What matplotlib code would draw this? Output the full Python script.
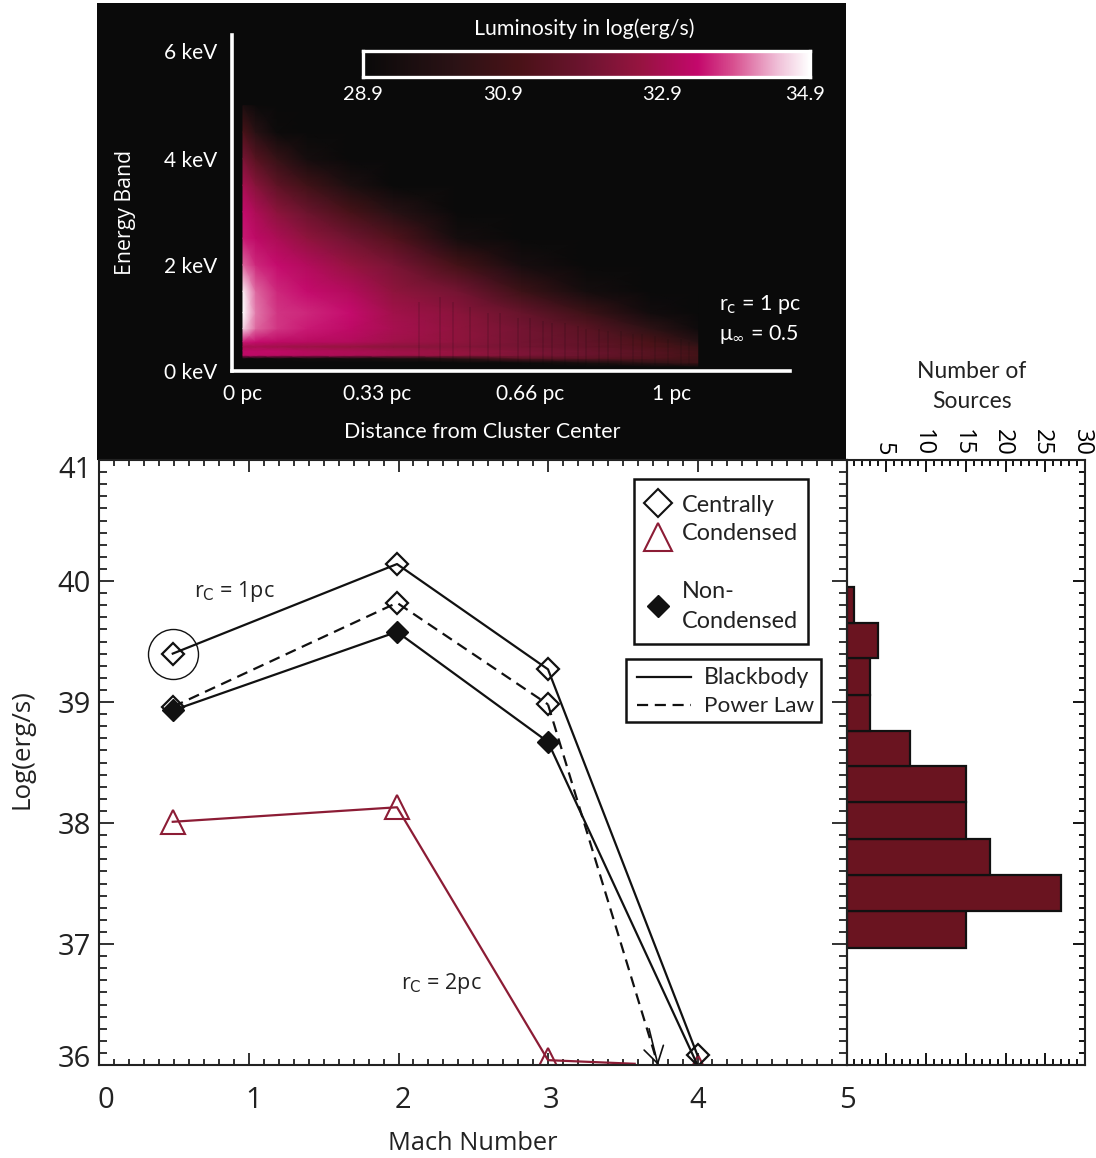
import numpy as np
import matplotlib
matplotlib.use('Agg')
import matplotlib.pyplot as plt
from matplotlib.colors import LinearSegmentedColormap
from matplotlib.patches import Rectangle
from matplotlib.ticker import MultipleLocator
from matplotlib.transforms import ScaledTranslation

# Line plot data, log luminosity against Mach number
mach = [0.49, 1.99, 3, 4]
bb_condensed = [39.40, 40.14, 39.27, 36.08]
pl_condensed_x = [0.49, 1.99, 3]
pl_condensed = [38.96, 39.82, 38.98]
pl_limit_x = 3.736
pl_limit_y = 36.00
non_condensed = [38.93, 39.58, 38.67, 36.00]
rc2_x = [0.49, 1.99, 3, 3.58]
rc2 = [38.01, 38.13, 36.04, 36.01]
rc2_tri_x = [0.49, 1.99, 3, 4]
rc2_tri = [38.01, 38.13, 36.04, 35.98]

# Histogram of sources
hist_edges = [36.97, 37.27, 37.57, 37.87, 38.17, 38.47, 38.76, 39.06, 39.36, 39.65, 39.95]
hist_counts = [15, 27, 18, 15, 15, 8, 3, 3, 4, 1]

# Luminosity map, read on a coarse grid
dist_pc = [0, 0.03, 0.08, 0.15, 0.25, 0.35, 0.5, 0.65, 0.8, 0.95, 1.06]
energy_kev = [0.08, 0.16, 0.24, 0.30, 0.38, 0.46, 0.55, 0.8, 1.1, 1.5, 2.0, 2.5, 3.0, 3.5, 4.0, 4.5, 5.0]
lum_map = [
    [28.9, 28.9, 28.9, 28.9, 28.9, 28.9, 28.9, 28.9, 28.9, 28.9, 29.0],
    [28.9, 28.9, 28.9, 28.9, 28.9, 28.9, 28.9, 29.0, 29.6, 30.3, 30.7],
    [29.0, 29.0, 29.1, 29.2, 29.3, 29.6, 30.2, 31.4, 31.5, 31.2, 30.7],
    [33.3, 33.3, 33.2, 33.1, 33.0, 32.8, 32.6, 32.2, 31.8, 31.3, 30.8],
    [33.3, 33.3, 33.3, 33.1, 33.0, 32.8, 32.6, 32.2, 31.8, 31.3, 30.7],
    [32.9, 32.9, 32.8, 32.7, 32.6, 32.4, 32.3, 32.0, 31.6, 31.1, 30.5],
    [33.5, 33.4, 33.3, 33.2, 33.1, 32.8, 32.5, 32.0, 31.6, 31.0, 30.0],
    [34.6, 34.0, 33.7, 33.5, 33.3, 32.9, 32.5, 32.0, 31.4, 30.2, 29.1],
    [34.9, 34.1, 33.7, 33.6, 33.4, 32.8, 32.4, 31.7, 30.6, 29.2, 28.9],
    [34.8, 34.0, 33.6, 33.4, 33.1, 32.5, 32.0, 30.6, 29.3, 28.9, 28.9],
    [34.0, 33.6, 33.4, 33.1, 32.6, 32.1, 30.8, 29.4, 28.9, 28.9, 28.9],
    [33.5, 33.3, 33.0, 32.5, 31.9, 31.2, 29.3, 28.9, 28.9, 28.9, 28.9],
    [33.4, 33.0, 32.4, 31.8, 30.9, 30.0, 28.9, 28.9, 28.9, 28.9, 28.9],
    [32.9, 32.3, 31.5, 30.7, 29.6, 28.9, 28.9, 28.9, 28.9, 28.9, 28.9],
    [32.1, 31.3, 30.4, 29.3, 28.9, 28.9, 28.9, 28.9, 28.9, 28.9, 28.9],
    [31.0, 30.0, 29.0, 28.9, 28.9, 28.9, 28.9, 28.9, 28.9, 28.9, 28.9],
    [29.5, 29.0, 28.9, 28.9, 28.9, 28.9, 28.9, 28.9, 28.9, 28.9, 28.9],
]

# Faint dark vertical streaks of the map: distance and how high each one reaches
streak_d = [0.41, 0.46, 0.49, 0.53, 0.57, 0.60, 0.64, 0.67, 0.70, 0.72, 0.75,
            0.78, 0.80, 0.83, 0.85, 0.88, 0.91, 0.93, 0.96, 0.99, 1.02, 1.04]
streak_top = [1.3, 1.4, 1.3, 1.2, 1.1, 1.1, 1.0, 1.0, 0.95, 0.9, 0.9,
              0.85, 0.8, 0.8, 0.75, 0.75, 0.7, 0.7, 0.65, 0.6, 0.6, 0.55]

W, H = 1096, 1158
MAROON = '#8c1c35'
BAR = '#6a1420'
INK = '#111111'
TEXT = '#222222'
FONT_TOP = 'Lato'
FONT_LOW = 'Open Sans'
DASH = (0, (5, 3))


def pix_axes(fig, left, top, right, bottom, **kw):
    return fig.add_axes([left / W, 1 - bottom / H, (right - left) / W, (bottom - top) / H], **kw)


def nudge(label, dx, dy):
    # shift a tick label by some pixels, the original labels sit off their ticks
    label.set_transform(label.get_transform() + ScaledTranslation(dx / 100, dy / 100, fig.dpi_scale_trans))


lum_cmap = LinearSegmentedColormap.from_list('lum', [
    (0.0, '#0a0a0a'), (0.2, '#2a1215'), (0.35, '#4a1218'), (0.5, '#6e1430'), (0.62, '#961440'),
    (0.75, '#c4086c'), (0.83, '#d85090'), (0.93, '#f0c0d8'), (1.0, '#ffffff')])

fig = plt.figure(figsize=(W / 100, H / 100), dpi=100)
fig.patch.set_facecolor('white')
fig.add_artist(Rectangle((97 / W, 1 - 460 / H), 749 / W, 457 / H, transform=fig.transFigure,
                         facecolor='#0a0a0a', edgecolor='none', zorder=-1))

# Top panel: luminosity map on black
ax_map = pix_axes(fig, 232, 35, 790, 371)
ax_map.patch.set_alpha(0)
ax_map.pcolormesh(dist_pc, energy_kev, lum_map, cmap=lum_cmap, vmin=28.9, vmax=34.9, shading='gouraud')
ax_map.vlines(streak_d, 0.12, streak_top, color='#0a0a0a', alpha=0.12, lw=1.4)
ax_map.set_xlim(-0.0256, 1.275)
ax_map.set_ylim(0, 6.33)
for side in ['top', 'right']:
    ax_map.spines[side].set_visible(False)
for side in ['left', 'bottom']:
    ax_map.spines[side].set_color('white')
    ax_map.spines[side].set_linewidth(2.6)
ax_map.set_xticks([0, 0.312, 0.669, 1.0], ['0 pc', '0.33 pc', '0.66 pc', '1 pc'])
ax_map.set_yticks([0, 2, 4, 6.03], ['0 keV', '2 keV', '4 keV', '6 keV'])
ax_map.tick_params(length=0, colors='white', labelsize=15, pad=10)
ax_map.tick_params(axis='x', pad=9)
ax_map.tick_params(axis='y', pad=10.7)
for lab in ax_map.get_xticklabels() + ax_map.get_yticklabels():
    lab.set_family(FONT_TOP)

# Colour bar
ax_cb = pix_axes(fig, 363, 51, 810, 77)
ax_cb.imshow(np.linspace(0, 1, 256)[None, :], cmap=lum_cmap, aspect='auto')
ax_cb.set_xticks([])
ax_cb.set_yticks([])
for sp in ax_cb.spines.values():
    sp.set_color('white')
    sp.set_linewidth(2.4)

# Main panel
ax = pix_axes(fig, 99.5, 460, 847, 1065)
ax.set_xlim(0, 5)
ax.set_ylim(36, 41)
ax.plot(rc2_x, rc2, color=MAROON, lw=1.6)
ax.plot(rc2_tri_x, rc2_tri, color=MAROON, lw=0, marker='^', ms=17, mfc='none', mec=MAROON, mew=1.5)
ax.plot(mach, bb_condensed, color=INK, lw=1.6, marker='D', ms=11.5, mfc='none', mec=INK, mew=1.6)
ax.plot(pl_condensed_x, pl_condensed, color=INK, lw=1.6, ls=DASH, marker='D', ms=11.5, mfc='none', mec=INK, mew=1.6)
# dashed run down to the upper limit arrow
ax.plot([pl_condensed_x[-1], pl_limit_x], [pl_condensed[-1], pl_limit_y], color=INK, lw=1.6, ls=DASH)
ax.annotate('', xy=(pl_limit_x, pl_limit_y), xytext=(pl_limit_x - 0.06, pl_limit_y + 0.3),
            arrowprops=dict(arrowstyle='->,head_length=0.9,head_width=0.55', color=INK, lw=1.2,
                            shrinkA=0, shrinkB=0, mutation_scale=13))
ax.plot(mach, non_condensed, color=INK, lw=1.6)
ax.plot(mach[:3], non_condensed[:3], color=INK, lw=0, marker='D', ms=11.5, mfc=INK, mec=INK)
ax.plot(mach[:1], bb_condensed[:1], lw=0, marker='o', ms=36, mfc='none', mec=INK, mew=1)
ax.xaxis.set_major_locator(MultipleLocator(1))
ax.xaxis.set_minor_locator(MultipleLocator(0.1))
ax.yaxis.set_major_locator(MultipleLocator(1))
ax.yaxis.set_minor_locator(MultipleLocator(0.1))
ax.tick_params(which='major', direction='in', top=True, right=True, width=1.3, labelsize=21, colors=TEXT)
ax.tick_params(which='minor', direction='in', top=True, right=True, width=1.3, colors=TEXT)
ax.tick_params(axis='x', which='major', length=8.5, pad=15)
ax.tick_params(axis='x', which='minor', length=4.5)
ax.tick_params(axis='y', which='major', length=10.5, pad=6)
ax.tick_params(axis='y', which='minor', length=5.5)
ax.set_xticks([0, 1, 2, 3, 4, 5])
ax.set_yticks([36, 37, 38, 39, 40, 41])
for lab in ax.get_xticklabels() + ax.get_yticklabels():
    lab.set_family(FONT_LOW)
for i, dx in enumerate([6, 5, 4, 3, 0, 0]):
    nudge(ax.get_xticklabels()[i], dx, 0)
nudge(ax.get_yticklabels()[0], 0, 9)
nudge(ax.get_yticklabels()[5], 0, -7)
for sp in ax.spines.values():
    sp.set_linewidth(1.5)
    sp.set_color(TEXT)

# Side histogram
ax_h = pix_axes(fig, 846.5, 460, 1085, 1065)
ax_h.patch.set_alpha(0)
ax_h.set_xlim(0, 30)
ax_h.set_ylim(36, 41)
ax_h.barh(hist_edges[:-1], hist_counts, height=np.diff(hist_edges), align='edge', color=BAR, edgecolor=INK, lw=1.6)
ax_h.xaxis.set_major_locator(MultipleLocator(5))
ax_h.xaxis.set_minor_locator(MultipleLocator(1))
ax_h.yaxis.set_major_locator(MultipleLocator(1))
ax_h.yaxis.set_minor_locator(MultipleLocator(0.1))
ax_h.tick_params(which='major', direction='in', top=True, bottom=True, left=False, right=True,
                 labeltop=True, labelbottom=False, labelleft=False, length=8.6, width=1.3, pad=3, labelsize=17)
ax_h.tick_params(which='minor', direction='in', top=True, bottom=True, left=False, right=True, length=4.5, width=1.3)
ax_h.set_xticks([5, 10, 15, 20, 25, 30], ['5', '10', '15', '20', '25', '30'], rotation=-90, family=FONT_LOW)
for lab in ax_h.get_xticklabels():
    nudge(lab, -3, 0)
for sp in ax_h.spines.values():
    sp.set_linewidth(1.5)
    sp.set_color(TEXT)

# Overlay in pixel coordinates for the free text and the two legend boxes
ov = fig.add_axes([0, 0, 1, 1])
ov.set_xlim(0, W)
ov.set_ylim(H, 0)
ov.axis('off')

for x, y, s in [(584, 29, 'Luminosity in log(erg/s)'), (482, 432, 'Distance from Cluster Center')]:
    ov.text(x, y, s, color='white', fontsize=15.4, family=FONT_TOP, ha='center', va='center')
for x, s in [(363, '28.9'), (503, '30.9'), (662, '32.9'), (805, '34.9')]:
    ov.text(x, 94, s, color='white', fontsize=14.5, family=FONT_TOP, ha='center', va='center')
ov.text(126, 212, 'Energy Band', color='white', fontsize=15.3, family=FONT_LOW, rotation=90, ha='center', va='center')
ov.text(719, 305, 'r$_{\\mathrm{c}}$ = 1 pc', color='white', fontsize=15.4, family=FONT_TOP, va='center')
ov.text(719, 334, 'μ$_{\\infty}$ = 0.5', color='white', fontsize=15.4, family=FONT_TOP, va='center')

ov.text(972, 372, 'Number of', color=TEXT, fontsize=16.5, family=FONT_TOP, ha='center', va='center')
ov.text(972, 401, 'Sources', color=TEXT, fontsize=16.5, family=FONT_TOP, ha='center', va='center')
ov.text(473, 1143, 'Mach Number', color=TEXT, fontsize=18.3, family=FONT_LOW, ha='center', va='center')
ov.text(22, 749, 'Log(erg/s)', color=TEXT, fontsize=18.7, family=FONT_LOW, rotation=90, ha='center', va='center')
ov.text(194, 591, 'r$_{\\mathrm{C}}$ = 1pc', color=TEXT, fontsize=15.5, family=FONT_LOW, va='center')
ov.text(401, 984, 'r$_{\\mathrm{C}}$ = 2pc', color=TEXT, fontsize=15.5, family=FONT_LOW, va='center')

ov.add_patch(Rectangle((634, 479), 174, 165, fc='white', ec=INK, lw=1.8))
ov.plot([658], [503], marker='D', ms=14, mfc='none', mec=INK, mew=1.5, lw=0)
ov.plot([658], [537], marker='^', ms=20, mfc='none', mec=MAROON, mew=1.5, lw=0)
ov.plot([658], [606], marker='D', ms=11.5, mfc=INK, mec=INK, lw=0)
for y, s in [(505, 'Centrally'), (534, 'Condensed'), (592, 'Non-'), (621, 'Condensed')]:
    ov.text(682, y, s, color=TEXT, fontsize=16.8, family=FONT_TOP, va='center')
ov.add_patch(Rectangle((626, 659), 195, 63, fc='white', ec=INK, lw=1.8))
ov.plot([637, 691], [677, 677], color=INK, lw=1.6)
ov.plot([637, 691], [705, 705], color=INK, lw=1.6, ls=DASH)
ov.text(704, 678, 'Blackbody', color=TEXT, fontsize=16.6, family=FONT_TOP, va='center')
ov.text(704, 706, 'Power Law', color=TEXT, fontsize=16.2, family=FONT_TOP, va='center')

fig.savefig('out.png', dpi=100)
